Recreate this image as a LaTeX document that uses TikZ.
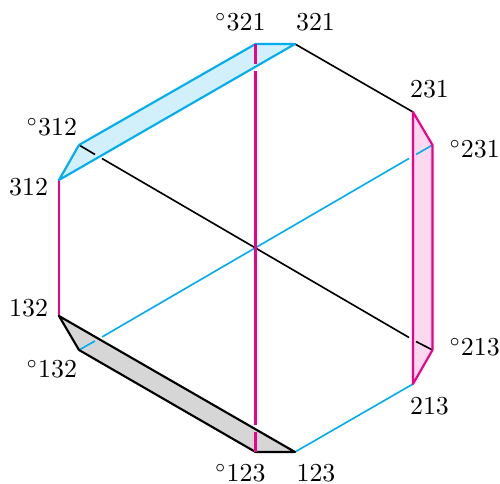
\documentclass[tikz,border=0pt]{standalone}
\definecolor{pinkline}{RGB}{236,0,140}
\definecolor{cyanline}{RGB}{0,174,239}
\tikzset{
  thinedge/.style={line width=0.65pt},
  thickedge/.style={line width=0.85pt,line join=round},
  lab/.style={inner sep=0pt,font=\fontsize{10.35}{12}\selectfont}
}
\begin{document}
\begin{tikzpicture}[x=0.4pt,y=-0.4pt]
\useasboundingbox (0,0) rectangle (500,484);
\coordinate (a) at (295,44);
\coordinate (ao) at (255.5,44);
\coordinate (b) at (413,112);
\coordinate (bo) at (432.5,145);
\coordinate (c) at (413,384);
\coordinate (co) at (432.5,350);
\coordinate (d) at (295,452);
\coordinate (dd) at (255.5,452);
\coordinate (e) at (59,316);
\coordinate (eo) at (79,350);
\coordinate (f) at (59,180);
\coordinate (fo) at (79,145);
\coordinate (ga) at (255.5,64);
\coordinate (gb) at (255.5,71);
\coordinate (gc) at (255.5,425);
\coordinate (gd) at (255.5,432);
\coordinate (ha) at (95,154.5);
\coordinate (hb) at (102,158.5);
\coordinate (hc) at (409,337.5);
\coordinate (hd) at (416,341.5);
\coordinate (ia) at (95,341);
\coordinate (ib) at (102,337);
\coordinate (ic) at (409,158.5);
\coordinate (id) at (416,154.5);
% fills
\fill[cyanline!18] (ao)--(a)--(f)--(fo)--cycle;
\fill[pinkline!15] (b)--(bo)--(co)--(c)--cycle;
\fill[black!16] (e)--(eo)--(dd)--(d)--cycle;
% inner diagonals
\draw[thinedge,black] (fo)--(ha) (hb)--(hc) (hd)--(co);
\draw[thinedge,cyanline] (eo)--(ia) (ib)--(ic) (id)--(bo);
% hexagon edges
\draw[thinedge] (a)--(b);
\draw[thinedge,cyanline] (c)--(d);
\draw[thinedge,pinkline] (f)--(e);
% bands
\draw[thickedge,cyanline] (f)--(fo)--(ao)--(a)--cycle;
\draw[thickedge,pinkline] (b)--(bo)--(co)--(c)--cycle;
\draw[thickedge] (e)--(eo)--(dd)--(d)--cycle;
% labels
\node[lab,anchor=base] (l1) at (315.5,30.5) {321};
\node[lab,anchor=base east] (l2) at (266,30.5) {$^\circ$321};
\node[lab,anchor=base] (l3) at (429.5,97.5) {231};
\node[lab,anchor=base west] (l4) at (449,158) {$^\circ$231};
\node[lab,anchor=base west] (l5) at (449,356) {$^\circ$213};
\node[lab,anchor=base] (l6) at (429.5,414.5) {213};
\node[lab,anchor=base] (l7) at (316,482) {123};
\node[lab,anchor=base east] (l8) at (266,482) {$^\circ$123};
\node[lab,anchor=base east] (l9) at (48.5,316.5) {132};
\node[lab,anchor=base east] (l10) at (77.5,377.5) {$^\circ$132};
\node[lab,anchor=base east] (l11) at (48.5,195.5) {312};
\node[lab,anchor=base east] (l12) at (77.5,136) {$^\circ$312};
% pink vertical, on top
\draw[thickedge,pinkline] (ao)--(ga);
\draw[thickedge,pinkline] (gb)--(gc);
\draw[thickedge,pinkline] (gd)--(dd);
\end{tikzpicture}
\end{document}
